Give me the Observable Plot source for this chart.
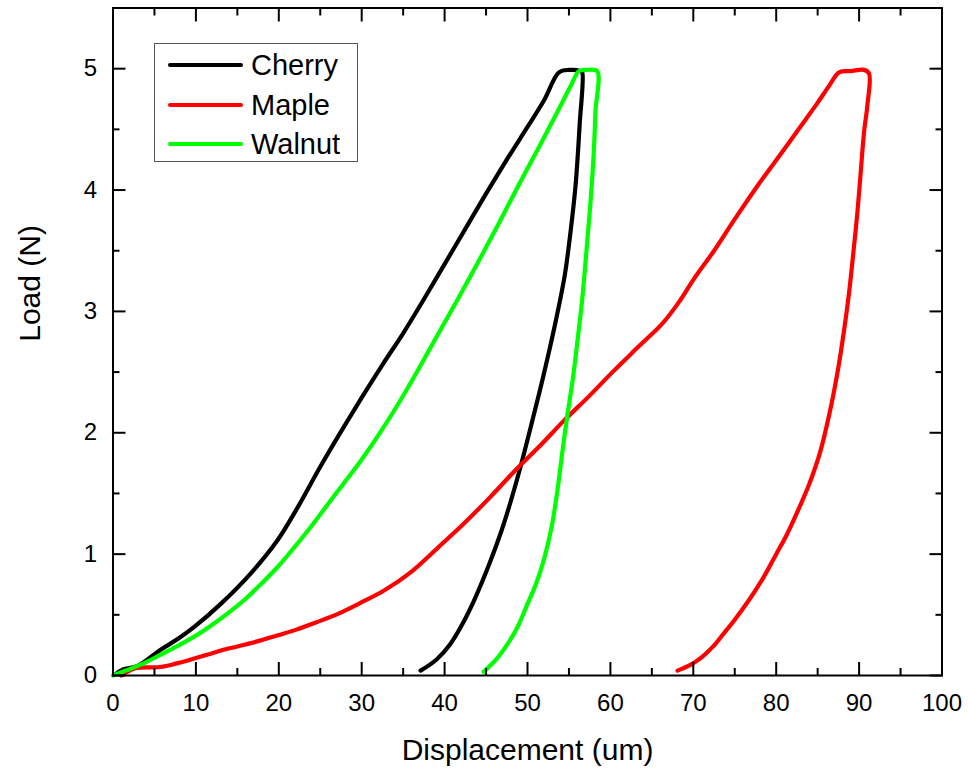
<!DOCTYPE html>
<html>
<head>
<meta charset="utf-8">
<script src="https://cdn.jsdelivr.net/npm/d3@7"></script>
<script src="https://cdn.jsdelivr.net/npm/@observablehq/plot@0.6"></script>
<style>
  body { margin: 0; background: #fff; font-family: "Liberation Sans", Arial, sans-serif; }
  #wrap { position: relative; width: 968px; height: 773px; }
  #legend { position: absolute; left: 154px; top: 43px; width: 202px; height: 117px;
            border: 1.5px solid #555; background: #fff; box-sizing: content-box; }
  .item { position: absolute; left: 0; height: 0; }
  .swatch { position: absolute; left: 13px; width: 75px; height: 4px; top: -2px; border-radius: 2px; }
  .lab { position: absolute; left: 96px; top: -17px; font-size: 29px; line-height: 34px; color: #000; white-space: nowrap; }
</style>
</head>
<body>
<div id="wrap"></div>
<script>
// ---- data ----
const seriesNames = ["Cherry", "Maple", "Walnut"];
const seriesColors = ["#000000", "#ff0000", "#00ff00"];

const cherryDisp = [0.3, 1.2, 3.0, 5.7, 7.8, 9.8, 13.0, 16.6, 19.8, 22.4, 25.0, 27.5, 30.0, 32.5, 35.0, 37.5, 40.0, 42.5, 45.0, 47.5, 50.0, 52.0, 53.8, 55.0, 56.4, 56.6,
  56.3, 55.8, 55.2, 54.5, 53.5, 52.5, 51.5, 50.4, 49.2, 48.0, 46.8, 45.4, 43.7, 42.2, 40.7, 39.0, 37.1];
const cherryLoad = [0.01, 0.05, 0.08, 0.21, 0.30, 0.40, 0.59, 0.84, 1.11, 1.40, 1.72, 2.01, 2.29, 2.56, 2.82, 3.10, 3.39, 3.68, 3.97, 4.25, 4.52, 4.74, 4.97, 4.99, 4.98, 4.97,
  4.55, 4.04, 3.66, 3.30, 2.95, 2.64, 2.35, 2.05, 1.73, 1.44, 1.18, 0.92, 0.64, 0.43, 0.26, 0.13, 0.04];

const mapleDisp = [1.0, 2.7, 5.7, 7.7, 9.8, 11.8, 13.8, 16.8, 19.8, 22.2, 24.6, 27.2, 29.9, 32.7, 35.9, 39.3, 42.3, 45.5, 48.8, 51.6, 54.4, 57.4, 60.4, 63.4, 66.4, 68.3, 70.1, 72.5, 74.9, 77.9, 80.9, 82.9, 84.9, 86.3, 87.6, 89.0, 90.6, 91.2,
  91.0, 90.6, 90.2, 89.8, 89.3, 88.8, 88.2, 87.4, 86.4, 85.3, 84.0, 82.5, 81.2, 80.0, 78.4, 76.7, 75.0, 73.6, 72.4, 71.0, 69.7, 68.1];
const mapleLoad = [0.0, 0.06, 0.07, 0.10, 0.14, 0.18, 0.22, 0.27, 0.33, 0.38, 0.44, 0.51, 0.60, 0.70, 0.85, 1.06, 1.25, 1.47, 1.71, 1.90, 2.10, 2.30, 2.51, 2.71, 2.91, 3.08, 3.27, 3.50, 3.75, 4.05, 4.33, 4.52, 4.71, 4.85, 4.97, 4.98, 4.99, 4.96,
  4.70, 4.48, 4.15, 3.82, 3.48, 3.16, 2.85, 2.50, 2.15, 1.84, 1.58, 1.34, 1.15, 1.00, 0.80, 0.62, 0.46, 0.34, 0.24, 0.15, 0.09, 0.04];

const walnutDisp = [0.0, 1.5, 3.7, 5.7, 7.7, 9.8, 11.8, 13.8, 15.8, 17.8, 19.8, 21.8, 23.8, 25.8, 27.8, 30.0, 32.3, 34.6, 36.9, 39.1, 41.5, 44.0, 46.5, 49.0, 51.5, 53.8, 55.3, 56.2, 57.2, 58.4,
  58.2, 58.0, 57.6, 57.1, 56.6, 56.1, 55.5, 54.8, 54.2, 53.6, 52.9, 52.0, 51.0, 50.0, 48.8, 47.6, 46.2, 44.7];
const walnutLoad = [0.0, 0.04, 0.10, 0.17, 0.24, 0.32, 0.41, 0.51, 0.62, 0.75, 0.89, 1.05, 1.22, 1.40, 1.58, 1.78, 2.01, 2.26, 2.53, 2.80, 3.09, 3.40, 3.72, 4.05, 4.37, 4.67, 4.87, 4.98, 4.99, 4.98,
  4.65, 4.32, 3.90, 3.49, 3.10, 2.80, 2.46, 2.14, 1.84, 1.52, 1.22, 0.96, 0.75, 0.59, 0.40, 0.26, 0.13, 0.03];

const xMajorTicks = [0, 10, 20, 30, 40, 50, 60, 70, 80, 90, 100];
const xMinorTicks = [5, 15, 25, 35, 45, 55, 65, 75, 85, 95];
const yMajorTicks = [0, 1, 2, 3, 4, 5];
const yMinorTicks = [0.5, 1.5, 2.5, 3.5, 4.5];

const xTitle = "Displacement (um)";
const yTitle = "Load (N)";

// ---- build table ----
const seriesDisp = [cherryDisp, mapleDisp, walnutDisp];
const seriesLoad = [cherryLoad, mapleLoad, walnutLoad];
const rows = [];
seriesNames.forEach((name, i) => {
  seriesDisp[i].forEach((d, j) => rows.push({series: name, disp: d, load: seriesLoad[i][j]}));
});

const font = "Liberation Sans, Arial, sans-serif";
const tickStyle = {strokeWidth: 2, tickFormat: () => "", label: null};
const intFormat = d => String(d);

const chart = Plot.plot({
  width: 968,
  height: 773,
  marginLeft: 112.5,
  marginRight: 26.5,
  marginTop: 7.5,
  marginBottom: 98,
  style: {fontFamily: font, fontSize: "24px", color: "#000", background: "#fff", overflow: "visible"},
  x: {domain: [0, 100]},
  y: {domain: [0, 5.5]},
  color: {domain: seriesNames, range: seriesColors},
  marks: [
    Plot.line(rows, {x: "disp", y: "load", z: "series", stroke: "series", strokeWidth: 4.2,
      strokeLinejoin: "round", strokeLinecap: "round", curve: "catmull-rom"}),
    // inward ticks on all four sides
    Plot.axisX(xMajorTicks, {anchor: "bottom", tickSize: -13, ...tickStyle}),
    Plot.axisX(xMinorTicks, {anchor: "bottom", tickSize: -7, ...tickStyle}),
    Plot.axisX(xMajorTicks, {anchor: "top", tickSize: -13, ...tickStyle}),
    Plot.axisX(xMinorTicks, {anchor: "top", tickSize: -7, ...tickStyle}),
    Plot.axisY(yMajorTicks, {anchor: "left", tickSize: -13, ...tickStyle}),
    Plot.axisY(yMinorTicks, {anchor: "left", tickSize: -7, ...tickStyle}),
    Plot.axisY(yMajorTicks, {anchor: "right", tickSize: -13, ...tickStyle}),
    Plot.axisY(yMinorTicks, {anchor: "right", tickSize: -7, ...tickStyle}),
    // tick labels
    Plot.axisX(xMajorTicks, {anchor: "bottom", tickSize: 0, tickPadding: 18, fontSize: 24, label: null, tickFormat: intFormat}),
    Plot.axisY(yMajorTicks, {anchor: "left", tickSize: 0, tickPadding: 16, fontSize: 24, label: null, tickFormat: intFormat}),
    // axis titles
    Plot.text([xTitle], {frameAnchor: "bottom", dy: 75, fontSize: 30, lineAnchor: "middle", fill: "#000"}),
    Plot.text([yTitle], {frameAnchor: "left", dx: -82.5, rotate: -90, fontSize: 30, lineAnchor: "middle", fill: "#000"}),
    Plot.frame({stroke: "#000", strokeWidth: 2})
  ]
});

const wrap = document.getElementById("wrap");
wrap.appendChild(chart);

// legend inside the plot area
const legend = document.createElement("div");
legend.id = "legend";
const rowTops = [21, 61, 100];
seriesNames.forEach((name, i) => {
  const it = document.createElement("div");
  it.className = "item";
  it.style.top = rowTops[i] + "px";
  const sw = document.createElement("div");
  sw.className = "swatch";
  sw.style.background = seriesColors[i];
  const lb = document.createElement("div");
  lb.className = "lab";
  lb.textContent = name;
  it.appendChild(sw);
  it.appendChild(lb);
  legend.appendChild(it);
});
wrap.appendChild(legend);
</script>
</body>
</html>
